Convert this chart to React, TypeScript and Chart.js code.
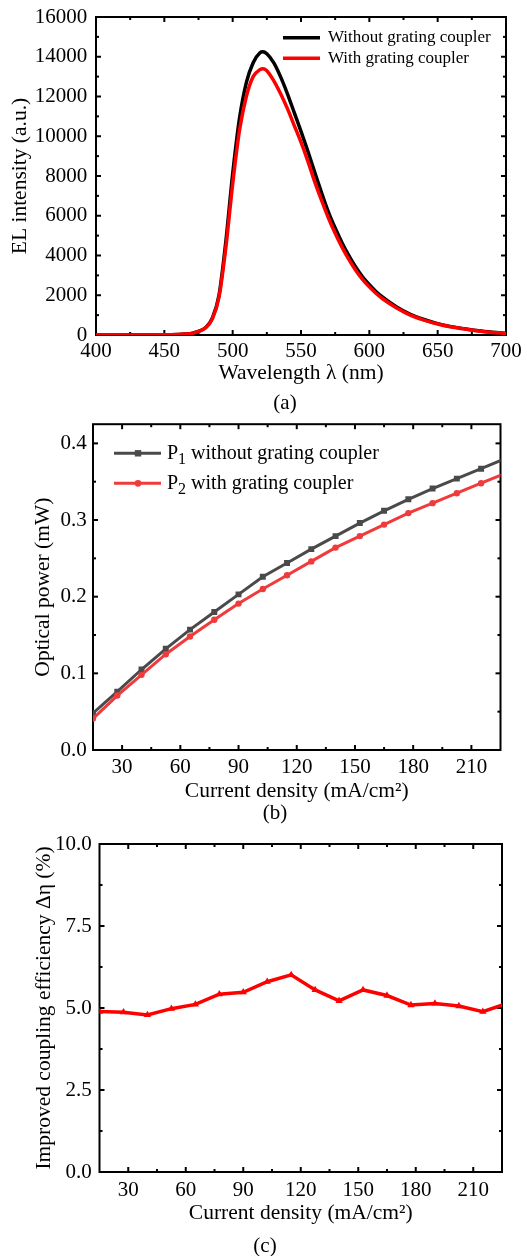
import React, { useEffect, useRef } from "react";
import { Chart, registerables } from "chart.js";

Chart.register(...registerables);

const SERIF = "'Liberation Serif', 'Times New Roman', Times, serif";
Chart.defaults.font.family = SERIF;

// ---------------- (a) EL spectra ----------------
const wavelengthNm = [
  400, 410, 420, 430, 440, 450, 455, 460, 465, 470, 475, 480, 485, 490, 495, 500, 505, 510, 515, 520, 522, 525,
  530, 535, 540, 545, 550, 555, 560, 565, 570, 575, 580, 585, 590, 595, 600, 605, 610, 620, 630, 640, 650, 660, 670,
  680, 690, 700,
];
const elWithoutCoupler = [
  0, 0, 0, 0, 5, 10, 15, 25, 45, 80, 180, 360, 830, 2000, 4700, 8100, 10900, 12700, 13700, 14200, 14250, 14150,
  13700, 13000, 12150, 11200, 10250, 9250, 8200, 7170, 6200, 5380, 4640, 3990, 3420, 2930, 2530, 2180, 1890, 1410, 1040,
  780, 570, 420, 310, 210, 140, 85,
];
const elWithCoupler = [
  0, 0, 0, 0, 5, 10, 15, 25, 45, 80, 180, 350, 800, 1900, 4400, 7600, 10300, 12000, 13000, 13350, 13400, 13300,
  12800, 12150, 11400, 10550, 9700, 8750, 7720, 6780, 5900, 5120, 4420, 3800, 3260, 2800, 2420, 2090, 1810, 1360, 1000,
  750, 550, 400, 300, 200, 130, 80,
];
const elLegendLabels = ["Without grating coupler", "With grating coupler"];
const wavelengthTicks = [400, 450, 500, 550, 600, 650, 700];
const elIntensityTicks = [0, 2000, 4000, 6000, 8000, 10000, 12000, 14000, 16000];

// ---------------- (b) optical power ----------------
const currentDensity = [15, 27.5, 40, 52.5, 65, 77.5, 90, 102.5, 115, 127.5, 140, 152.5, 165, 177.5, 190, 202.5, 215, 227.5];
const powerP1 = [0.048, 0.076, 0.105, 0.132, 0.157, 0.18, 0.203, 0.226, 0.244, 0.262, 0.279, 0.296, 0.312, 0.327, 0.341, 0.354, 0.367, 0.38];
const powerP2 = [0.041, 0.071, 0.098, 0.125, 0.148, 0.17, 0.191, 0.21, 0.228, 0.246, 0.264, 0.279, 0.294, 0.309, 0.322, 0.335, 0.348, 0.361];
const powerLegendMain = ["P", "P"];
const powerLegendSub = ["1", "2"];
const powerLegendRest = [" without grating coupler", " with grating coupler"];
const currentTicks = [30, 60, 90, 120, 150, 180, 210];
const powerTicks = [0, 0.1, 0.2, 0.3, 0.4];

// ---------------- (c) improved coupling efficiency ----------------
const deltaEta = [4.89, 4.87, 4.79, 4.98, 5.11, 5.42, 5.48, 5.8, 6.01, 5.55, 5.22, 5.55, 5.38, 5.09, 5.14, 5.06, 4.89, 5.14];
const etaTicks = [0, 2.5, 5, 7.5, 10];

const captions = ["(a)", "(b)", "(c)"];
const xTitles = ["Wavelength λ (nm)", "Current density (mA/cm²)", "Current density (mA/cm²)"];
const yTitles = ["EL intensity (a.u.)", "Optical power (mW)", "Improved coupling efficiency Δη (%)"];

// ---------------- helpers ----------------
const tickFont = { family: SERIF, size: 21, lineHeight: 1.2, weight: "normal" as const };
const titleFont = { family: SERIF, size: 21.5, lineHeight: 1.2, weight: "normal" as const };

function minorValues(major: number[], min: number, max: number) {
  const out: number[] = [];
  if (major.length < 2) return out;
  const step = major[1] - major[0];
  for (let v = major[0] - step / 2; v <= max + 1e-9; v += step) {
    if (v > min + 1e-9 && v < max - 1e-9) out.push(v);
  }
  return out;
}

const panelDecor = {
  id: "panelDecor",
  beforeDatasetsDraw(chart: any, _args: any, opts: any) {
    const { ctx } = chart;
    const { left, right, top, bottom } = chart.chartArea;
    const xs = chart.scales.x;
    const ys = chart.scales.y;
    const major = opts.major ?? 5;
    const minor = opts.minor ?? 3;
    ctx.save();
    ctx.strokeStyle = "#000";
    ctx.lineWidth = 2;
    const seg = (x1: number, y1: number, x2: number, y2: number) => {
      ctx.beginPath();
      ctx.moveTo(x1, y1);
      ctx.lineTo(x2, y2);
      ctx.stroke();
    };
    const mx = xs.ticks.map((t: any) => t.value);
    const my = ys.ticks.map((t: any) => t.value);
    mx.forEach((v: number) => {
      const p = xs.getPixelForValue(v);
      seg(p, bottom, p, bottom - major);
      seg(p, top, p, top + major);
    });
    minorValues(mx, xs.min, xs.max).forEach((v) => {
      const p = xs.getPixelForValue(v);
      seg(p, bottom, p, bottom - minor);
      seg(p, top, p, top + minor);
    });
    my.forEach((v: number) => {
      const p = ys.getPixelForValue(v);
      seg(left, p, left + major, p);
      seg(right, p, right - major, p);
    });
    minorValues(my, ys.min, ys.max).forEach((v) => {
      const p = ys.getPixelForValue(v);
      seg(left, p, left + minor, p);
      seg(right, p, right - minor, p);
    });
    ctx.lineJoin = "miter";
    ctx.strokeRect(left, top, right - left, bottom - top);
    ctx.restore();
  },
  afterDraw(chart: any, _args: any, opts: any) {
    const { ctx } = chart;
    ctx.save();
    const lg = opts.legend;
    if (lg) {
      lg.rows.forEach((row: any) => {
        ctx.strokeStyle = row.color;
        ctx.lineWidth = row.width;
        ctx.beginPath();
        ctx.moveTo(lg.x1, row.y);
        ctx.lineTo(lg.x2, row.y);
        ctx.stroke();
        ctx.fillStyle = row.color;
        if (row.marker === "rect") {
          ctx.fillRect(lg.mx - 3.2, row.y - 3.2, 6.4, 6.4);
        } else if (row.marker === "circle") {
          ctx.beginPath();
          ctx.arc(lg.mx, row.y, 3.4, 0, Math.PI * 2);
          ctx.fill();
        }
        let x = lg.textX;
        ctx.fillStyle = "#000";
        ctx.textBaseline = "middle";
        ctx.textAlign = "left";
        row.parts.forEach((part: any) => {
          ctx.font = `normal ${part.size}px ${SERIF}`;
          ctx.fillText(part.text, x, row.y + part.dy);
          x += ctx.measureText(part.text).width;
        });
      });
    }
    const cap = opts.caption;
    if (cap) {
      ctx.fillStyle = "#000";
      ctx.font = `normal 21px ${SERIF}`;
      ctx.textAlign = "center";
      ctx.textBaseline = "middle";
      ctx.fillText(cap.text, cap.x, cap.y);
    }
    ctx.restore();
  },
};

function xAxis(min: number, max: number, ticks: number[], title: string, height: number, labelPad: number, fmt: (v: number) => string) {
  return {
    type: "linear",
    position: "bottom",
    min,
    max,
    afterBuildTicks: (s: any) => {
      s.ticks = ticks.map((value) => ({ value }));
    },
    afterFit: (s: any) => {
      s.height = height;
      s.paddingLeft = 0;
      s.paddingRight = 0;
    },
    grid: { display: false, drawTicks: false },
    border: { display: false },
    ticks: { font: tickFont, color: "#000", padding: labelPad, maxRotation: 0, minRotation: 0, autoSkip: false, callback: (v: any) => fmt(Number(v)) },
    title: { display: true, text: title, font: titleFont, color: "#000", padding: { top: 0, bottom: 0 } },
  };
}

function yAxis(min: number, max: number, ticks: number[], title: string, width: number, labelPad: number, titlePad: number, fmt: (v: number) => string) {
  return {
    type: "linear",
    position: "left",
    min,
    max,
    afterBuildTicks: (s: any) => {
      s.ticks = ticks.map((value) => ({ value }));
    },
    afterFit: (s: any) => {
      s.width = width;
      s.paddingTop = 0;
      s.paddingBottom = 0;
    },
    grid: { display: false, drawTicks: false },
    border: { display: false },
    ticks: { font: tickFont, color: "#000", padding: labelPad, autoSkip: false, callback: (v: any) => fmt(Number(v)) },
    title: { display: true, text: title, font: titleFont, color: "#000", padding: { top: titlePad, bottom: 0 } },
  };
}

const fmtInt = (v: number) => String(Math.round(v));
const fmt1 = (v: number) => v.toFixed(1);

function basePlugins(decor: any) {
  return {
    legend: { display: false },
    tooltip: { enabled: false },
    title: { display: false },
    panelDecor: decor,
  };
}

function configA() {
  return {
    type: "line",
    data: {
      datasets: [
        {
          label: elLegendLabels[0],
          data: wavelengthNm.map((x, i) => ({ x, y: elWithoutCoupler[i] })),
          borderColor: "#000000",
          borderWidth: 3.5,
          pointRadius: 0,
          cubicInterpolationMode: "monotone",
          order: 1,
        },
        {
          label: elLegendLabels[1],
          data: wavelengthNm.map((x, i) => ({ x, y: elWithCoupler[i] })),
          borderColor: "#ff0000",
          borderWidth: 3.5,
          pointRadius: 0,
          cubicInterpolationMode: "monotone",
          order: 0,
        },
      ],
    },
    options: {
      responsive: false,
      animation: false,
      events: [],
      layout: { padding: { left: 0, right: 21, top: 17, bottom: 33.4 } },
      scales: {
        x: xAxis(400, 700, wavelengthTicks, xTitles[0], 51.6, 3.4, fmtInt),
        y: yAxis(0, 16000, elIntensityTicks, yTitles[0], 96, 8.7, 7.4, fmtInt),
      },
      plugins: basePlugins({
        major: 5,
        minor: 3,
        legend: {
          x1: 283,
          x2: 320,
          textX: 328,
          rows: [
            { y: 37.7, color: "#000000", width: 3.5, parts: [{ text: elLegendLabels[0], size: 17, dy: 0 }] },
            { y: 58.3, color: "#ff0000", width: 3.5, parts: [{ text: elLegendLabels[1], size: 17, dy: 0 }] },
          ],
        },
        caption: { text: captions[0], x: 285, y: 403 },
      }),
    },
    plugins: [panelDecor],
  };
}

function configB() {
  return {
    type: "line",
    data: {
      datasets: [
        {
          label: "P1",
          data: currentDensity.map((x, i) => ({ x, y: powerP1[i] })),
          borderColor: "#4a4a4a",
          backgroundColor: "#4a4a4a",
          borderWidth: 3,
          pointStyle: "rect",
          pointRadius: 4.2,
          pointBorderWidth: 0,
          tension: 0,
          order: 1,
        },
        {
          label: "P2",
          data: currentDensity.map((x, i) => ({ x, y: powerP2[i] })),
          borderColor: "#ef3b3b",
          backgroundColor: "#ef3b3b",
          borderWidth: 3,
          pointStyle: "circle",
          pointRadius: 3.2,
          pointBorderWidth: 0,
          tension: 0,
          order: 0,
        },
      ],
    },
    options: {
      responsive: false,
      animation: false,
      events: [],
      layout: { padding: { left: 0, right: 26.5, top: 4, bottom: 35.4 } },
      scales: {
        x: xAxis(15, 225, currentTicks, xTitles[1], 54.6, 4.4, fmtInt),
        y: yAxis(0, 0.425, powerTicks, yTitles[1], 93, 6.3, 30.4, fmt1),
      },
      plugins: basePlugins({
        major: 5,
        minor: 3,
        legend: {
          x1: 114,
          x2: 161,
          mx: 138,
          textX: 167,
          rows: [0, 1].map((i) => ({
            y: i === 0 ? 33.3 : 63.3,
            color: i === 0 ? "#4a4a4a" : "#ef3b3b",
            width: 3,
            marker: i === 0 ? "rect" : "circle",
            parts: [
              { text: powerLegendMain[i], size: 20, dy: 0 },
              { text: powerLegendSub[i], size: 16, dy: 6 },
              { text: powerLegendRest[i], size: 20, dy: 0 },
            ],
          })),
        },
        caption: { text: captions[1], x: 275, y: 393 },
      }),
    },
    plugins: [panelDecor],
  };
}

function configC() {
  return {
    type: "line",
    data: {
      datasets: [
        {
          label: "Δη",
          data: currentDensity.map((x, i) => ({ x, y: deltaEta[i] })),
          borderColor: "#ff0000",
          backgroundColor: "#ff0000",
          borderWidth: 3.5,
          pointStyle: "triangle",
          pointRadius: 4.2,
          pointBorderWidth: 0,
          tension: 0,
        },
      ],
    },
    options: {
      responsive: false,
      animation: false,
      events: [],
      layout: { padding: { left: 0, right: 25, top: 16, bottom: 29.4 } },
      scales: {
        x: xAxis(15, 225, currentTicks, xTitles[2], 54.6, 5.4, fmtInt),
        y: yAxis(0, 10, etaTicks, yTitles[2], 99.5, 7.8, 31.4, fmt1),
      },
      plugins: basePlugins({
        major: 5,
        minor: 3,
        caption: { text: captions[2], x: 265, y: 418 },
      }),
    },
    plugins: [panelDecor],
  };
}

function Panel({ top, height, build }: { top: number; height: number; build: () => any }) {
  const ref = useRef<HTMLCanvasElement | null>(null);
  useEffect(() => {
    if (!ref.current) return;
    const chart = new Chart(ref.current, build());
    return () => chart.destroy();
  }, [build]);
  return (
    <canvas
      ref={ref}
      width={527}
      height={height}
      style={{ position: "absolute", left: 0, top, width: 527, height, display: "block" }}
    />
  );
}

export default function App() {
  return (
    <div style={{ position: "absolute", left: 0, top: 0, width: 527, height: 1256, background: "#fff", overflow: "hidden" }}>
      <Panel top={0} height={420} build={configA} />
      <Panel top={420} height={420} build={configB} />
      <Panel top={828} height={428} build={configC} />
    </div>
  );
}
